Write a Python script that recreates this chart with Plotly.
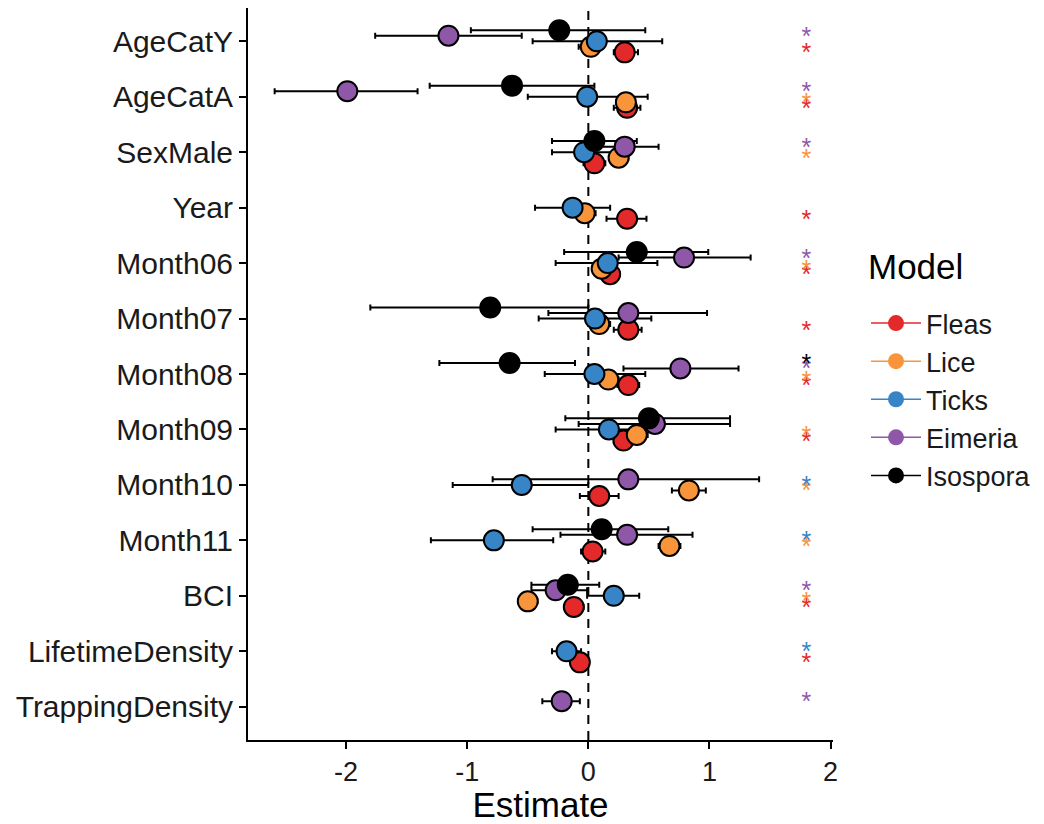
import numpy as np
import plotly.graph_objects as go

categories = ["AgeCatY", "AgeCatA", "SexMale", "Year", "Month06", "Month07", "Month08",
              "Month09", "Month10", "Month11", "BCI", "LifetimeDensity", "TrappingDensity"]
models = ["Fleas", "Lice", "Ticks", "Eimeria", "Isospora"]
model_colors = ["#E3292A", "#F8943A", "#3784C6", "#8E57A8", "#000000"]

N = None
fleas_est = [0.30, 0.32, 0.05, 0.32, 0.18, 0.33, 0.33, 0.29, 0.09, 0.035, -0.12, -0.07, N]
fleas_lo  = [0.21, 0.21, -0.04, 0.15, 0.10, 0.21, 0.24, 0.21, -0.07, -0.06, -0.20, -0.12, N]
fleas_hi  = [0.41, 0.43, 0.14, 0.48, 0.26, 0.44, 0.42, 0.37, 0.25, 0.14, -0.04, -0.02, N]

lice_est = [0.02, 0.31, 0.25, -0.03, 0.11, 0.09, 0.165, 0.40, 0.83, 0.67, -0.50, N, N]
lice_lo  = [-0.08, 0.23, 0.17, -0.12, 0.03, 0.00, 0.08, 0.31, 0.69, 0.58, -0.58, N, N]
lice_hi  = [0.10, 0.38, 0.33, 0.06, 0.19, 0.18, 0.25, 0.49, 0.97, 0.76, -0.42, N, N]

ticks_est = [0.07, -0.01, -0.035, -0.13, 0.16, 0.055, 0.05, 0.17, -0.55, -0.78, 0.21, -0.18, N]
ticks_lo  = [-0.46, -0.50, -0.30, -0.44, -0.27, -0.41, -0.36, -0.27, -1.12, -1.30, -0.01, -0.30, N]
ticks_hi  = [0.61, 0.49, 0.22, 0.18, 0.57, 0.52, 0.47, 0.60, 0.00, -0.29, 0.42, -0.06, N]

eimeria_est = [-1.155, -1.99, 0.30, N, 0.79, 0.33, 0.76, 0.55, 0.33, 0.32, -0.27, N, -0.22]
eimeria_lo  = [-1.76, -2.59, 0.02, N, 0.25, -0.33, 0.29, -0.08, -0.79, -0.23, -0.47, N, -0.38]
eimeria_hi  = [-0.55, -1.41, 0.58, N, 1.34, 0.98, 1.24, 1.17, 1.41, 0.86, -0.01, N, -0.07]

isospora_est = [-0.24, -0.63, 0.05, N, 0.40, -0.81, -0.65, 0.50, N, 0.11, -0.17, N, N]
isospora_lo  = [-0.97, -1.31, -0.30, N, -0.20, -1.80, -1.23, -0.19, N, -0.46, -0.47, N, N]
isospora_hi  = [0.47, 0.05, 0.40, N, 0.99, 0.00, -0.11, 1.17, N, 0.66, 0.09, N, N]

# significance flags (1 = asterisk shown)
fleas_sig    = [1, 1, 0, 1, 1, 1, 1, 1, 0, 0, 1, 1, 0]
lice_sig     = [0, 1, 1, 0, 1, 0, 1, 1, 1, 1, 1, 0, 0]
ticks_sig    = [0, 0, 0, 0, 0, 0, 0, 0, 1, 1, 0, 1, 0]
eimeria_sig  = [1, 1, 1, 0, 1, 0, 1, 0, 0, 0, 1, 0, 1]
isospora_sig = [0, 0, 0, 0, 0, 0, 1, 0, 0, 0, 0, 0, 0]
star_x = 1.8

data = {
    "Fleas": (fleas_est, fleas_lo, fleas_hi, fleas_sig),
    "Lice": (lice_est, lice_lo, lice_hi, lice_sig),
    "Ticks": (ticks_est, ticks_lo, ticks_hi, ticks_sig),
    "Eimeria": (eimeria_est, eimeria_lo, eimeria_hi, eimeria_sig),
    "Isospora": (isospora_est, isospora_lo, isospora_hi, isospora_sig),
}
dodge = {"Fleas": 0.2, "Lice": 0.1, "Ticks": 0.0, "Eimeria": -0.1, "Isospora": -0.2}

def arr(v):
    return np.array([np.nan if a is None else a for a in v], dtype=float)

FONT = "Liberation Sans, Arial, sans-serif"
TXT = "#1a1a1a"
fig = go.Figure()

# error bars first (behind all points)
for m, c in zip(models, model_colors):
    est, lo, hi, sig = data[m]
    e, l, h = arr(est), arr(lo), arr(hi)
    y = np.arange(len(categories)) + dodge[m]
    fig.add_trace(go.Scatter(
        x=e, y=y, mode="markers", showlegend=False, hoverinfo="skip",
        marker=dict(size=1, color="rgba(0,0,0,0)"),
        error_x=dict(type="data", symmetric=False, array=h - e, arrayminus=e - l,
                     color="black", thickness=2, width=3),
    ))

# points
for m, c in zip(models, model_colors):
    est, lo, hi, sig = data[m]
    e = arr(est)
    y = np.arange(len(categories)) + dodge[m]
    fig.add_trace(go.Scatter(
        x=e, y=y, mode="markers", name=m, showlegend=False,
        marker=dict(size=20, color=c, line=dict(color="black", width=2)),
    ))

# significance asterisks
for m, c in zip(models, model_colors):
    est, lo, hi, sig = data[m]
    ys = [i + dodge[m] + 0.05 for i, s in enumerate(sig) if s]
    fig.add_trace(go.Scatter(
        x=[star_x] * len(ys), y=ys, mode="text", text=["*"] * len(ys),
        textfont=dict(family=FONT, size=25, color=c), showlegend=False, hoverinfo="skip",
    ))

# legend entries
for m, c in zip(models, model_colors):
    fig.add_trace(go.Scatter(
        x=[None], y=[None], mode="lines+markers", name=m, legendgroup=m,
        line=dict(color=c, width=1.5), marker=dict(size=16, color=c),
    ))

fig.add_shape(type="line", x0=0, x1=0, xref="x", y0=0, y1=1, yref="paper",
              line=dict(color="black", width=2, dash="9px,7px"), layer="below")

# plot area in page pixels: x 248..833, y 8..740 (page has an 8px body margin)
def px_x(p):
    return (p - 248) / 585

def px_y(p):
    return 1 - (p - 8) / 732

fig.add_annotation(text="Model", x=px_x(866), xref="paper", xanchor="left",
                   y=px_y(266), yref="paper", yanchor="middle",
                   showarrow=False, font=dict(family=FONT, size=35, color="black"))

fig.update_layout(
    width=1036, height=816,
    margin=dict(l=240, r=211, t=0, b=84),
    paper_bgcolor="white", plot_bgcolor="white",
    font=dict(family=FONT, color="black"),
    legend=dict(x=px_x(866), xanchor="left", y=px_y(299), yanchor="top",
                font=dict(family=FONT, size=27, color=TXT), itemwidth=50,
                tracegroupgap=0, bgcolor="rgba(0,0,0,0)"),
    xaxis=dict(range=[-2.81, 2.02], tickvals=[-2, -1, 0, 1, 2], ticktext=["-2", "-1", "0", "1", "2"],
               showline=True, linecolor="black", linewidth=2, ticks="outside", ticklen=7,
               tickwidth=2, tickcolor="black", showgrid=False, zeroline=False,
               tickfont=dict(family=FONT, size=27, color=TXT),
               title=dict(text="Estimate", font=dict(family=FONT, size=35, color="black"), standoff=4)),
    yaxis=dict(range=[12.6, -0.6], tickvals=list(range(len(categories))), ticktext=categories,
               showline=True, linecolor="black", linewidth=2, ticks="outside", ticklen=7,
               tickwidth=2, tickcolor="black", showgrid=False, zeroline=False,
               tickfont=dict(family=FONT, size=30, color=TXT)),
)

fig.write_html("out.html")
